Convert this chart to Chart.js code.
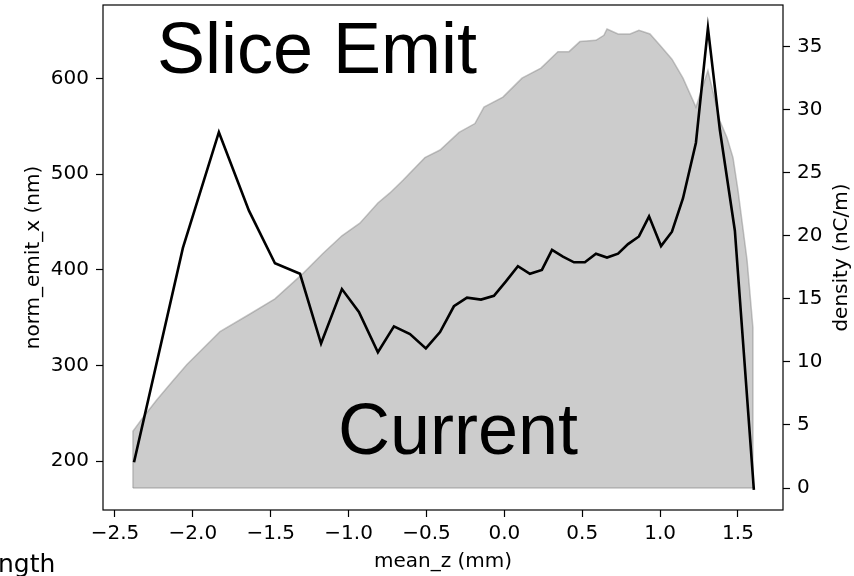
<!DOCTYPE html>
<html>
<head>
<meta charset="utf-8">
<script src="https://cdn.jsdelivr.net/npm/chart.js@4"></script>
<style>
  body { margin: 0; background: #fff; }
  canvas { display: block; }
</style>
</head>
<body>
<canvas id="sliceChart" width="854" height="576"></canvas>
<script>
// slice emittance (left axis) vs mean_z
var zSlice = [-2.378, -2.064, -1.833, -1.640, -1.473, -1.312, -1.177, -1.043, -0.934, -0.812,
              -0.709, -0.606, -0.504, -0.413, -0.324, -0.240, -0.150, -0.067, 0.010, 0.087,
              0.164, 0.241, 0.306, 0.376, 0.447, 0.517, 0.588, 0.659, 0.730, 0.794,
              0.864, 0.929, 1.006, 1.076, 1.147, 1.230, 1.307, 1.384, 1.480, 1.602];
var emitX = [199, 423, 544, 462, 407, 396, 323, 380, 356, 314,
             341, 333, 318, 335, 362, 371, 369, 373, 388, 404,
             396, 400, 421, 414, 408, 408, 417, 413, 417, 427,
             435, 456, 425, 440, 475, 533, 653, 546, 441, 170];

// current density (right axis), ends drop to zero like fill_between
var zDensity = [-2.385, -2.385, -2.320, -2.231, -2.128, -2.038, -1.826, -1.634, -1.473, -1.294,
                -1.165, -1.043, -0.928, -0.812, -0.735, -0.651, -0.510, -0.413, -0.291, -0.189,
                -0.131, -0.009, 0.113, 0.235, 0.344, 0.415, 0.485, 0.588, 0.639, 0.659,
                0.730, 0.807, 0.864, 0.935, 0.999, 1.076, 1.147, 1.230, 1.307, 1.384,
                1.429, 1.468, 1.500, 1.558, 1.596, 1.596];
var density = [0, 4.5, 5.6, 7.0, 8.5, 9.8, 12.4, 13.8, 15.0, 17.0,
               18.6, 20.0, 21.0, 22.6, 23.4, 24.4, 26.2, 26.8, 28.2, 28.9,
               30.2, 31.0, 32.5, 33.3, 34.6, 34.6, 35.4, 35.5, 35.9, 36.4,
               36.0, 36.0, 36.3, 36.0, 35.1, 34.0, 32.5, 30.2, 33.1, 29.1,
               27.8, 26.2, 23.6, 18.1, 12.7, 0];

var zTicks = [-2.5, -2.0, -1.5, -1.0, -0.5, 0.0, 0.5, 1.0, 1.5];
var emitTicks = [200, 300, 400, 500, 600];
var densityTicks = [0, 5, 10, 15, 20, 25, 30, 35];

var fontFam = "'DejaVu Sans', sans-serif";
var bigFont = "72px 'Liberation Sans', Arial, sans-serif";

function pts(xs, ys) {
    return xs.map(function (x, i) { return {x: x, y: ys[i]}; });
}
function fmt(v) {
    var s = Math.abs(v).toFixed(1);
    return v < 0 ? '\u2212' + s : s;
}
function fixTicks(list) {
    return function (scale) { scale.ticks = list.map(function (v) { return {value: v}; }); };
}
function fixWidth(w) {
    return function (s) { s.width = w; s.paddingTop = 0; s.paddingBottom = 0; };
}

var frame = {
    id: 'frame',
    afterDatasetsDraw: function (chart) {
        var a = chart.chartArea, ctx = chart.ctx;
        ctx.save();
        ctx.strokeStyle = '#000';
        ctx.lineWidth = 1.2;
        ctx.strokeRect(a.left, a.top, a.right - a.left, a.bottom - a.top);
        ctx.restore();
    },
    afterDraw: function (chart) {
        var ctx = chart.ctx, a = chart.chartArea;
        ctx.save();
        ctx.fillStyle = '#000';
        ctx.font = bigFont;
        ctx.textBaseline = 'alphabetic';
        ctx.textAlign = 'left';
        ctx.fillText('Slice Emit', 157, 73);
        ctx.fillText('Current', 338, 454);

        // right axis label, reading bottom to top
        ctx.font = "20px " + fontFam;
        ctx.textAlign = 'center';
        ctx.textBaseline = 'middle';
        ctx.translate(842, (a.top + a.bottom) / 2);
        ctx.rotate(-Math.PI / 2);
        ctx.fillText('density (nC/m)', 0, 0);
        ctx.restore();

        ctx.save();
        ctx.fillStyle = '#000';
        ctx.font = "25px " + fontFam;
        ctx.textBaseline = 'alphabetic';
        ctx.fillText('ngth', -2, 572);
        ctx.restore();
    }
};

var tickGrid = {display: true, drawOnChartArea: false, drawTicks: true, tickLength: 7, tickColor: '#000', tickWidth: 1.2};

var ctx = document.getElementById('sliceChart').getContext('2d');
var sliceChart = new Chart(ctx, {
    type: 'line',
    data: {
        datasets: [{
            label: 'norm_emit_x',
            data: pts(zSlice, emitX),
            yAxisID: 'y',
            borderColor: '#000',
            borderWidth: 2.6,
            pointRadius: 0,
            tension: 0,
            fill: false
        }, {
            label: 'base',
            data: pts([zDensity[0], zDensity[zDensity.length - 1]], [0, 0]),
            yAxisID: 'y2',
            borderColor: 'rgba(128,128,128,0.45)',
            borderWidth: 1.5,
            pointRadius: 0,
            fill: false
        }, {
            label: 'density',
            data: pts(zDensity, density),
            yAxisID: 'y2',
            borderColor: 'rgba(128,128,128,0.45)',
            backgroundColor: 'rgba(128,128,128,0.4)',
            borderWidth: 1.5,
            pointRadius: 0,
            tension: 0,
            fill: 'origin'
        }]
    },
    options: {
        responsive: false,
        animation: false,
        devicePixelRatio: 1,
        layout: {padding: {top: 5, left: 0, right: 0, bottom: 0}},
        plugins: {legend: {display: false}, tooltip: {enabled: false}},
        scales: {
            x: {
                type: 'linear',
                min: -2.577, max: 1.789,
                afterBuildTicks: fixTicks(zTicks),
                afterFit: function (s) { s.height = 66; },
                grid: tickGrid,
                border: {display: false},
                ticks: {color: '#000', font: {family: fontFam, size: 20}, padding: 5, maxRotation: 0,
                        callback: function (v) { return fmt(v); }},
                title: {display: true, text: 'mean_z (mm)', color: '#000',
                        font: {family: fontFam, size: 20}, padding: {top: 0, bottom: 2}}
            },
            y: {
                position: 'left',
                min: 149, max: 677,
                afterBuildTicks: fixTicks(emitTicks),
                afterFit: fixWidth(103),
                grid: tickGrid,
                border: {display: false},
                ticks: {color: '#000', font: {family: fontFam, size: 20}, padding: 7},
                title: {display: true, text: 'norm_emit_x (nm)', color: '#000',
                        font: {family: fontFam, size: 20}, padding: {top: 22, bottom: 0}}
            },
            y2: {
                position: 'right',
                min: -1.74, max: 38.3,
                afterBuildTicks: fixTicks(densityTicks),
                afterFit: fixWidth(71),
                grid: tickGrid,
                border: {display: false},
                ticks: {color: '#000', font: {family: fontFam, size: 20}, padding: 7}
            }
        }
    },
    plugins: [frame]
});
</script>
</body>
</html>
